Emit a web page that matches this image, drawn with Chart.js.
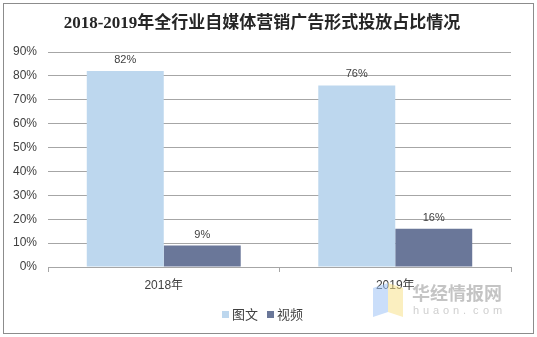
<!DOCTYPE html>
<html>
<head>
<meta charset="utf-8">
<script src="https://cdn.jsdelivr.net/npm/chart.js@4"></script>
<style>
html,body{margin:0;padding:0;background:#fff;}
#wrap{width:537px;height:337px;position:relative;}
</style>
</head>
<body>
<div id="wrap"><canvas id="c" width="537" height="337"></canvas></div>
<script>
const titleText = '2018-2019年全行业自媒体营销广告形式投放占比情况';
const categories = ['2018年', '2019年'];
const seriesNames = ['图文', '视频'];
const imageText = [82, 76];
const video = [9, 16];
const yTickLabels = ['0%', '10%', '20%', '30%', '40%', '50%', '60%', '70%', '80%', '90%'];
const colors = ['#BDD7EE', '#6A7799'];

const CJK = "'Noto Sans CJK SC'";
const tickFont = {family: "'Liberation Sans', " + CJK, size: 12};

const bgPlugin = {
  id: 'bg',
  beforeDraw(chart) {
    const ctx = chart.ctx;
    ctx.save();
    ctx.fillStyle = '#fff';
    ctx.fillRect(0, 0, chart.width, chart.height);
    ctx.restore();
  },
  afterDraw(chart) {
    const ctx = chart.ctx;
    ctx.save();
    // border
    ctx.strokeStyle = '#8c8c8c';
    ctx.lineWidth = 1;
    ctx.strokeRect(3.5, 3.5, 530, 330);
    // title
    ctx.fillStyle = '#262626';
    ctx.font = "bold 17px 'Liberation Serif', " + CJK;
    ctx.textAlign = 'center';
    ctx.textBaseline = 'middle';
    ctx.fillText(titleText, 262, 24);
    // data labels
    ctx.font = "11px 'Liberation Sans', " + CJK;
    ctx.fillStyle = '#404040';
    ctx.textBaseline = 'alphabetic';
    chart.data.datasets.forEach((ds, di) => {
      const meta = chart.getDatasetMeta(di);
      meta.data.forEach((bar, i) => {
        ctx.fillText(ds.data[i] + '%', bar.x, bar.y - 8);
      });
    });
    // legend
    ctx.font = "13px " + CJK + ", 'Liberation Sans'";
    ctx.textAlign = 'left';
    ctx.textBaseline = 'middle';
    const ly = 314;
    let lx = 222;
    chart.data.datasets.forEach((ds) => {
      ctx.fillStyle = ds.backgroundColor;
      ctx.fillRect(lx, ly - 3, 7, 7);
      ctx.fillStyle = '#404040';
      ctx.fillText(ds.label, lx + 10, ly);
      lx += 10 + ctx.measureText(ds.label).width + 9;
    });
    // watermark
    ctx.globalAlpha = 0.55;
    ctx.fillStyle = '#9ec3f5';
    ctx.beginPath();
    ctx.moveTo(373, 288); ctx.lineTo(388, 283); ctx.lineTo(388, 312); ctx.lineTo(373, 317); ctx.closePath(); ctx.fill();
    ctx.fillStyle = '#f7e28c';
    ctx.beginPath();
    ctx.moveTo(388, 283); ctx.lineTo(403, 288); ctx.lineTo(403, 317); ctx.lineTo(388, 312); ctx.closePath(); ctx.fill();
    ctx.globalAlpha = 1;
    ctx.fillStyle = '#c4c4c4';
    ctx.font = "bold 18px " + CJK;
    ctx.textAlign = 'left';
    ctx.fillText('华经情报网', 412, 293);
    ctx.font = "11px 'Liberation Sans'";
    ctx.fillStyle = '#cfcfcf';
    let hx = 413;
    for (const ch of 'huaon.com') { ctx.fillText(ch, hx, 311); hx += 10; }
    ctx.restore();
  }
};

new Chart(document.getElementById('c'), {
  type: 'bar',
  data: {
    labels: categories,
    datasets: [
      {label: seriesNames[0], data: imageText, backgroundColor: colors[0]},
      {label: seriesNames[1], data: video, backgroundColor: colors[1]}
    ]
  },
  options: {
    responsive: false,
    animation: false,
    devicePixelRatio: 1,
    layout: {padding: {left: 4, right: 26, top: 52, bottom: 40}},
    plugins: {legend: {display: false}, title: {display: false}, tooltip: {enabled: false}},
    datasets: {bar: {categoryPercentage: 0.665, barPercentage: 1.0}},
    scales: {
      x: {
        offset: true,
        grid: {display: true, drawOnChartArea: false, drawTicks: true, tickLength: 5, color: '#a6a6a6', offset: true},
        border: {display: true, color: '#a6a6a6'},
        ticks: {color: '#404040', font: tickFont, padding: 6},
        afterFit(s) { s.height = 30; }
      },
      y: {
        min: 0, max: 90,
        ticks: {stepSize: 10, color: '#404040', font: tickFont, padding: 11,
          callback: (v) => yTickLabels[Math.round(v / 10)]},
        grid: {color: '#a6a6a6', drawTicks: false},
        border: {display: false},
        afterFit(s) { s.width = 44; }
      }
    }
  },
  plugins: [bgPlugin]
});
</script>
</body>
</html>
